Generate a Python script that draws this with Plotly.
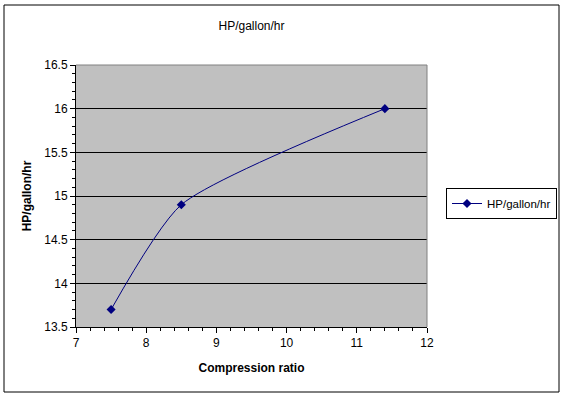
import plotly.graph_objects as go

compression_ratio = [7.5, 8.5, 11.4]
hp_per_gallon_hr = [13.7, 14.9, 16.0]
series_name = "HP/gallon/hr"
chart_title = "HP/gallon/hr"
x_title = "Compression ratio"
y_title = "HP/gallon/hr"

FONT = "Liberation Sans, Arial, sans-serif"
NAVY = "#000080"

fig = go.Figure()
fig.add_trace(go.Scatter(
    x=compression_ratio, y=hp_per_gallon_hr, name=series_name,
    mode="lines+markers",
    line=dict(color=NAVY, width=1, shape="spline", smoothing=0.6),
    marker=dict(symbol="diamond", size=7, color=NAVY),
))

L, R, T, B = 76, 139, 65, 71
W, H = 566, 398
pw, ph = W - L - R, H - T - B

def px(x):
    return (x - L) / pw

def py(y):
    return (H - B - y) / ph

fig.update_layout(
    width=W, height=H,
    margin=dict(l=L, r=R, t=T, b=B, autoexpand=False),
    paper_bgcolor="white", plot_bgcolor="#C0C0C0",
    font=dict(family=FONT, size=12, color="black"),
    title=dict(text=chart_title, x=(L + pw / 2) / W, xanchor="center",
               y=1 - 26 / H, yanchor="middle", yref="container",
               font=dict(size=12)),
    showlegend=True,
    legend=dict(x=px(446), y=py(188), xanchor="left", yanchor="top",
                bgcolor="white", bordercolor="black", borderwidth=1,
                font=dict(size=11.5), itemwidth=30, tracegroupgap=0),
    xaxis=dict(
        range=[7, 12], dtick=1, tick0=7,
        showgrid=False, zeroline=False,
        showline=True, linecolor="black", linewidth=1,
        ticks="outside", ticklen=5, tickcolor="black",
        minor=dict(dtick=0.2, ticks="outside", ticklen=3, tickcolor="black", showgrid=False),
        title=dict(text="<b>" + x_title + "</b>", standoff=14, font=dict(size=12)),
        tickfont=dict(size=12),
    ),
    yaxis=dict(
        range=[13.5, 16.5], dtick=0.5, tick0=13.5,
        showgrid=True, gridcolor="black", gridwidth=1, zeroline=False,
        showline=True, linecolor="black", linewidth=1,
        ticks="outside", ticklen=5, tickcolor="black",
        minor=dict(dtick=0.1, ticks="outside", ticklen=3, tickcolor="black", showgrid=False),
        title=dict(text="<b>" + y_title + "</b>", standoff=10, font=dict(size=12)),
        tickfont=dict(size=12),
    ),
    shapes=[
        dict(type="line", xref="paper", yref="paper", x0=0, x1=1, y0=1, y1=1,
             line=dict(color="#808080", width=1), layer="above"),
        dict(type="line", xref="paper", yref="paper", x0=1, x1=1, y0=0, y1=1,
             line=dict(color="#808080", width=1), layer="above"),
        dict(type="rect", xref="paper", yref="paper",
             x0=px(4), x1=px(559), y0=py(392), y1=py(5),
             line=dict(color="black", width=1), fillcolor="rgba(0,0,0,0)", layer="above"),
    ],
)

fig.write_html("out.html", config={"displayModeBar": False},
               post_script="document.body.style.margin='0';document.body.style.overflow='hidden';")
